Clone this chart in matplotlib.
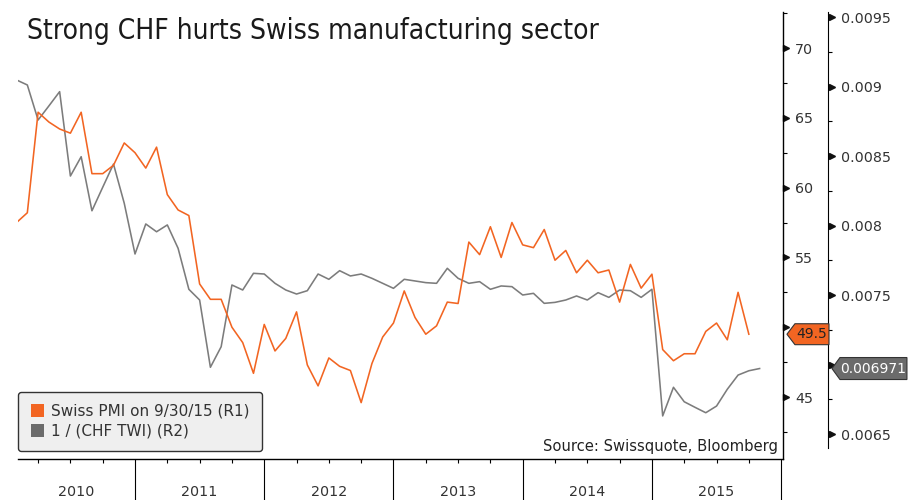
import matplotlib
matplotlib.use("Agg")
import matplotlib.pyplot as plt
import numpy as np
from matplotlib.patches import Patch, Polygon

# monthly series, Jan 2010 onwards (month-end values)
pmi = [57.5, 58.2, 65.4, 64.7, 64.2, 63.9, 65.4, 61.0, 61.0, 61.6, 63.2, 62.5,
       61.4, 62.9, 59.5, 58.4, 58.0, 53.1, 52.0, 52.0, 50.0, 48.9, 46.7, 50.2,
       48.3, 49.2, 51.1, 47.3, 45.8, 47.8, 47.2, 46.9, 44.6, 47.4, 49.3, 50.3,
       52.6, 50.7, 49.5, 50.1, 51.8, 51.7, 56.1, 55.2, 57.2, 55.0, 57.5, 55.9,
       55.7, 57.0, 54.8, 55.5, 53.9, 54.8, 53.9, 54.1, 51.8, 54.5, 52.8, 53.8,
       48.4, 47.6, 48.1, 48.1, 49.7, 50.3, 49.1, 52.5, 49.5]

chf_twi_inv = [0.009047, 0.009011, 0.008759, 0.008860, 0.008963, 0.008356,
               0.008495, 0.008106, 0.008275, 0.008442, 0.008160, 0.007795,
               0.008011, 0.007955, 0.008004, 0.007836, 0.007541, 0.007464,
               0.006980, 0.007128, 0.007572, 0.007536, 0.007656, 0.007651,
               0.007584, 0.007536, 0.007507, 0.007531, 0.007651, 0.007613,
               0.007675, 0.007637, 0.007651, 0.007620, 0.007584, 0.007548,
               0.007613, 0.007601, 0.007589, 0.007584, 0.007692, 0.007620,
               0.007584, 0.007596, 0.007541, 0.007565, 0.007560, 0.007500,
               0.007512, 0.007440, 0.007447, 0.007464, 0.007493, 0.007464,
               0.007517, 0.007483, 0.007536, 0.007531, 0.007483, 0.007541,
               0.006630, 0.006836, 0.006732, 0.006692, 0.006653, 0.006701,
               0.006822, 0.006924, 0.006955, 0.006971]

years = [2010, 2011, 2012, 2013, 2014, 2015]
pmi_ticks = [45, 50, 55, 60, 65, 70]
twi_ticks = [0.0065, 0.007, 0.0075, 0.008, 0.0085, 0.009, 0.0095]
title = "Strong CHF hurts Swiss manufacturing sector"
pmi_label = "Swiss PMI on 9/30/15 (R1)"
twi_label = "1 / (CHF TWI) (R2)"
source = "Source: Swissquote, Bloomberg"

ORANGE = "#f26522"
GREY = "#6b6b6b"
LINE_GREY = "#7c7c7c"
TXT = "#333333"
FS = 10.3

fig = plt.figure(figsize=(9.14, 5.0), dpi=100)
ax = fig.add_axes([0.0200, 0.0814, 0.8363, 0.8946])
ax2 = ax.twinx()
ax.set_zorder(ax2.get_zorder() + 1)
ax.patch.set_visible(False)

x_pmi = np.arange(1, len(pmi) + 1)
x_twi = np.arange(1, len(chf_twi_inv) + 1)
ax2.plot(x_twi, chf_twi_inv, color=LINE_GREY, lw=1.15)
ax.plot(x_pmi, pmi, color=ORANGE, lw=1.15)

xmin, xmax = 1.16, 72.14
ax.set_xlim(xmin, xmax)
ax.set_ylim(40.54, 72.58)
ax2.set_ylim(0.006318, 0.009536)

for s in ["left", "top"]:
    ax.spines[s].set_visible(False)
for s in ["left", "top", "bottom"]:
    ax2.spines[s].set_visible(False)
ax.spines["right"].set_linewidth(1.0)
ax.spines["bottom"].set_linewidth(1.0)
off2 = 1.0597
ax2.spines["right"].set_position(("axes", off2))
ax2.spines["right"].set_bounds(0.0064, 0.009536)

# the last values sit in tags over these levels, so their labels stay blank
pmi_hidden = 50
twi_hidden = 0.007

# R1 axis (PMI)
ax.yaxis.tick_right()
ax.set_yticks(pmi_ticks)
ax.set_yticklabels(["" if t == pmi_hidden else str(t) for t in pmi_ticks])
ax.set_yticks(np.arange(42.5, 73, 5), minor=True)
ax.tick_params(axis="y", which="major", length=0, pad=9, labelsize=FS, labelcolor=TXT)
ax.tick_params(axis="y", which="minor", length=3, width=0.8, direction="out")
ax.plot(np.full(len(pmi_ticks), 1.005), pmi_ticks, ls="none", marker=">", ms=5,
        color="#111111", transform=ax.get_yaxis_transform(), clip_on=False)

# R2 axis (1 / CHF TWI)
ax2.set_yticks(twi_ticks)
ax2.set_yticklabels(["" if t == twi_hidden else f"{t:g}" for t in twi_ticks])
ax2.set_yticks(np.arange(0.00675, 0.0095, 0.0005), minor=True)
ax2.tick_params(axis="y", which="major", length=0, pad=9, labelsize=FS, labelcolor=TXT)
ax2.tick_params(axis="y", which="minor", length=3, width=0.8, direction="out")
ax2.plot(np.full(len(twi_ticks), off2 + 0.005), twi_ticks, ls="none", marker=">", ms=5,
         color="#111111", transform=ax2.get_yaxis_transform(), clip_on=False)

# bottom axis: year dividers + quarterly ticks
ax.set_xticks([12 * (i + 1) for i in range(len(years))])
ax.set_xticklabels([])
ax.tick_params(axis="x", which="major", length=29.5, width=0.8, direction="out")
ax.set_xticks([m for m in range(3, 72, 3) if m % 12 and m > xmin], minor=True)
ax.tick_params(axis="x", which="minor", length=3, width=0.8, direction="out")
for i, yr in enumerate(years):
    lo = max(12 * i, xmin)
    hi = min(12 * (i + 1), xmax)
    ax.text((lo + hi) / 2, -0.072, str(yr), transform=ax.get_xaxis_transform(),
            ha="center", va="center", fontsize=FS, color=TXT)


def value_tag(axis, x0, x1, value, half_h, face, color, label):
    tip = 8 / 764.4
    pts = [(x0, value), (x0 + tip, value + half_h), (x1, value + half_h),
           (x1, value - half_h), (x0 + tip, value - half_h)]
    axis.add_patch(Polygon(pts, closed=True, transform=axis.get_yaxis_transform(),
                           facecolor=face, edgecolor="#333333", lw=0.8,
                           clip_on=False, zorder=10))
    axis.text((x0 + tip + x1) / 2, value, label, transform=axis.get_yaxis_transform(),
              ha="center", va="center", fontsize=10, color=color, zorder=11, clip_on=False)


value_tag(ax, 1.0056, 1.0606, pmi[-1], 0.75, ORANGE, "#222222", f"{pmi[-1]:.1f}")
value_tag(ax2, 1.0645, 1.1626, chf_twi_inv[-1], 0.0000791, GREY, "white",
          f"{chf_twi_inv[-1]:.6f}")

leg = ax.legend(handles=[Patch(facecolor=ORANGE), Patch(facecolor=GREY)],
                labels=[pmi_label, twi_label], loc="lower left",
                bbox_to_anchor=(0, 0.019), borderaxespad=0, fontsize=11,
                handlelength=0.9, handleheight=0.9, handletextpad=0.45,
                labelspacing=0.3, borderpad=0.8, fancybox=True, framealpha=1,
                facecolor="#efefef", edgecolor="#333333")
leg.get_frame().set_linewidth(1.0)
for t in leg.get_texts():
    t.set_color(TXT)

ax.text(0.9938, 0.0186, source, transform=ax.transAxes, ha="right", va="baseline",
        fontsize=10.6, color="#222222")

fig.text(27 / 914, 1 - 39 / 500, title, fontsize=20.2, ha="left", va="baseline",
         color="#1a1a1a", fontstretch="condensed")

fig.savefig("out.png", dpi=100)
